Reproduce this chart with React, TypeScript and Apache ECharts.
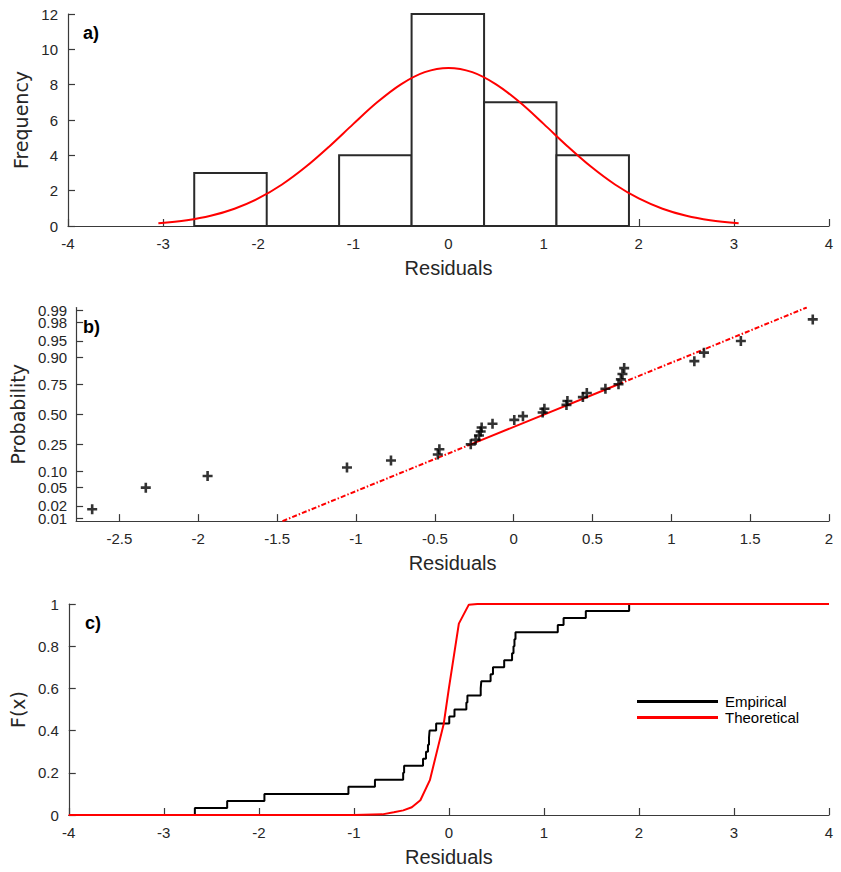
import React, { useEffect, useRef } from "react";
import * as echarts from "echarts";

// ---------- data ----------
const residuals = [
  -2.673, -2.333, -1.941, -1.057, -0.778, -0.481, -0.471, -0.272, -0.241, -0.22,
  -0.209, -0.203, -0.134, 0.004, 0.059, 0.184, 0.195, 0.335, 0.341, 0.439,
  0.464, 0.582, 0.665, 0.68, 0.69, 0.701, 1.146, 1.207, 1.441, 1.897,
];

const binEdges = [-2.673, -1.911, -1.15, -0.388, 0.374, 1.135, 1.897];
const binCounts = [3, 0, 4, 12, 7, 4];

const pdfX = [-3.05, -2.75, -2.5, -2.25, -2, -1.75, -1.5, -1.25, -1, -0.75, -0.5, -0.25, 0,
  0.25, 0.5, 0.75, 1, 1.25, 1.5, 1.75, 2, 2.25, 2.5, 2.75, 3.05];
const pdfY = [0.15, 0.33, 0.58, 0.98, 1.56, 2.35, 3.35, 4.52, 5.78, 7.0, 8.02, 8.71, 8.95,
  8.71, 8.02, 7.0, 5.78, 4.52, 3.35, 2.35, 1.56, 0.98, 0.58, 0.33, 0.15];

// probability tick labels, split into two interleaved sets so none is dropped
const probTicksA = [0.01, 0.05, 0.25, 0.75, 0.95, 0.99];
const probLabelsA = ["0.01", "0.05", "0.25", "0.75", "0.95", "0.99"];
const probTicksB = [0.02, 0.1, 0.5, 0.9, 0.98];
const probLabelsB = ["0.02", "0.10", "0.50", "0.90", "0.98"];
const probLimits = [0.0083, 0.9917];
const refLineX = [-1.466, -0.272, 0.665, 1.859];
const refLineP = [0.0083, 0.25, 0.75, 0.9917];
const normXTicks = [-2.5, -2, -1.5, -1, -0.5, 0, 0.5, 1, 1.5, 2];
const normXLimits = [-2.775, 2.0];

const cdfX = [-4, -1, -0.7, -0.58, -0.48, -0.39, -0.3, -0.2, -0.11, -0.055, 0.0, 0.105, 0.21, 0.3, 4];
const cdfF = [0, 0, 0.003, 0.013, 0.022, 0.037, 0.07, 0.165, 0.33, 0.43, 0.6, 0.907, 0.997, 1, 1];

// ---------- normal probability scale (probability paper transform) ----------
function norminv(p: number): number {
  const a = [-3.969683028665376e1, 2.209460984245205e2, -2.759285104469687e2, 1.38357751867269e2, -3.066479806614716e1, 2.506628277459239];
  const b = [-5.447609879822406e1, 1.615858368580409e2, -1.556989798598866e2, 6.680131188771972e1, -1.328068155288572e1];
  const c = [-7.784894002430293e-3, -3.223964580411365e-1, -2.400758277161838, -2.549732539343734, 4.374664141464968, 2.938163982698783];
  const d = [7.784695709041462e-3, 3.224671290700398e-1, 2.445134137142996, 3.754408661907416];
  const plow = 0.02425;
  const phigh = 1 - plow;
  if (p < plow) {
    const q = Math.sqrt(-2 * Math.log(p));
    return (((((c[0] * q + c[1]) * q + c[2]) * q + c[3]) * q + c[4]) * q + c[5]) /
      ((((d[0] * q + d[1]) * q + d[2]) * q + d[3]) * q + 1);
  }
  if (p <= phigh) {
    const q = p - 0.5;
    const r = q * q;
    return ((((((a[0] * r + a[1]) * r + a[2]) * r + a[3]) * r + a[4]) * r + a[5]) * q) /
      (((((b[0] * r + b[1]) * r + b[2]) * r + b[3]) * r + b[4]) * r + 1);
  }
  const q = Math.sqrt(-2 * Math.log(1 - p));
  return -(((((c[0] * q + c[1]) * q + c[2]) * q + c[3]) * q + c[4]) * q + c[5]) /
    ((((d[0] * q + d[1]) * q + d[2]) * q + d[3]) * q + 1);
}

const FONT = '"Liberation Sans", Arial, sans-serif';
const NAMEFONT = '"DejaVu Sans", Verdana, sans-serif';
const AX = "#3a3a3a";
const TXT = "#262626";

const PLUS = "path://M3.7,0H6.3V3.7H10V6.3H6.3V10H3.7V6.3H0V3.7H3.7Z";

export default function App() {
  const ref = useRef<HTMLDivElement>(null);

  useEffect(() => {
    if (!ref.current) return;
    const chart = echarts.init(ref.current, undefined, { renderer: "svg" });

    const n = residuals.length;
    const histData = binCounts.map((cnt, i) => [binEdges[i], binEdges[i + 1], cnt]);
    const pdfData = pdfX.map((x, i) => [x, pdfY[i]]);
    const normData = residuals.map((x, i) => [x, norminv((i + 0.5) / n)]);
    const refPts = refLineX.map((x, i) => [x, norminv(refLineP[i])]);
    const ecdfData: number[][] = [[residuals[0], 0]];
    residuals.forEach((x, i) => ecdfData.push([x, (i + 1) / n]));
    const cdfData = cdfX.map((x, i) => [x, cdfF[i]]);
    const zTicksA = probTicksA.map((p) => norminv(p));
    const zTicksB = probTicksB.map((p) => norminv(p));
    const zMin = norminv(probLimits[0]);
    const zMax = norminv(probLimits[1]);

    const nearestLabel = (ticks: number[], labels: string[]) => (v: number) => {
      let best = 0;
      ticks.forEach((z, i) => { if (Math.abs(z - v) < Math.abs(ticks[best] - v)) best = i; });
      return labels[best];
    };

    const axisBase = (extra: any = {}) => ({
      type: "value",
      axisLine: { show: true, onZero: false, lineStyle: { color: AX, width: 1.2 } },
      axisTick: { show: true, inside: true, length: 7, lineStyle: { color: AX, width: 1.2 } },
      splitLine: { show: false },
      axisLabel: { color: TXT, fontSize: 15, fontFamily: FONT, margin: 10 },
      ...extra,
    });

    const xName = {
      name: "Residuals",
      nameLocation: "middle",
      nameGap: 32,
      nameTextStyle: { color: TXT, fontSize: 20, fontFamily: FONT },
    };

    const option: any = {
      animation: false,
      textStyle: { fontFamily: FONT },
      grid: [
        { left: 68, right: 12, top: 14, height: 212 },
        { left: 68, right: 12, top: 307.5, height: 213.6 },
        { left: 68, right: 12, top: 604, height: 211 },
      ],
      xAxis: [
        axisBase({ gridIndex: 0, min: -4, max: 4, interval: 1, ...xName }),
        axisBase({
          gridIndex: 1,
          min: normXLimits[0],
          max: normXLimits[1],
          ...xName,
          axisTick: { show: true, inside: true, length: 7, lineStyle: { color: AX, width: 1.2 }, customValues: normXTicks },
          axisLabel: { color: TXT, fontSize: 15, fontFamily: FONT, margin: 10, customValues: normXTicks },
        }),
        axisBase({ gridIndex: 2, min: -4, max: 4, interval: 1, ...xName }),
      ],
      yAxis: [
        axisBase({
          gridIndex: 0, min: 0, max: 12, interval: 2,
          name: "Frequency", nameLocation: "middle", nameGap: 32,
          nameTextStyle: { color: TXT, fontSize: 19, fontFamily: NAMEFONT },
        }),
        axisBase({
          gridIndex: 1,
          position: "left",
          offset: 0,
          min: zMin,
          max: zMax,
          name: "Probability", nameLocation: "middle", nameGap: 47,
          nameTextStyle: { color: TXT, fontSize: 19, fontFamily: NAMEFONT },
          axisTick: { show: true, inside: true, length: 7, lineStyle: { color: AX, width: 1.2 }, customValues: zTicksA },
          axisLabel: {
            color: TXT, fontSize: 15, fontFamily: FONT, margin: 9,
            customValues: zTicksA,
            formatter: nearestLabel(zTicksA, probLabelsA),
          },
        }),
        axisBase({
          gridIndex: 2, min: 0, max: 1, interval: 0.2,
          name: "F(x)", nameLocation: "middle", nameGap: 40,
          nameTextStyle: { color: TXT, fontSize: 19, fontFamily: NAMEFONT },
        }),
        axisBase({
          gridIndex: 1,
          position: "left",
          offset: 0,
          min: zMin,
          max: zMax,
          axisLine: { show: false, onZero: false },
          axisTick: { show: true, inside: true, length: 7, lineStyle: { color: AX, width: 1.2 }, customValues: zTicksB },
          axisLabel: {
            color: TXT, fontSize: 15, fontFamily: FONT, margin: 9,
            customValues: zTicksB,
            formatter: nearestLabel(zTicksB, probLabelsB),
          },
        }),
      ],
      legend: {
        data: [
          { name: "Empirical", icon: "rect" },
          { name: "Theoretical", icon: "rect" },
        ],
        orient: "vertical",
        left: 632,
        top: 689,
        itemWidth: 81,
        itemHeight: 3,
        itemGap: 1,
        textStyle: { color: "#000", fontSize: 15, fontFamily: FONT, padding: [0, 0, 0, 2] },
      },
      graphic: [
        { type: "text", left: 83, top: 24, style: { text: "a)", fontSize: 18, fontWeight: "bold", fontFamily: FONT, fill: "#000" } },
        { type: "text", left: 83, top: 318, style: { text: "b)", fontSize: 18, fontWeight: "bold", fontFamily: FONT, fill: "#000" } },
        { type: "text", left: 85, top: 614, style: { text: "c)", fontSize: 18, fontWeight: "bold", fontFamily: FONT, fill: "#000" } },
      ],
      series: [
        {
          type: "custom",
          xAxisIndex: 0,
          yAxisIndex: 0,
          data: histData,
          encode: { x: [0, 1], y: 2 },
          renderItem: (params: any, api: any) => {
            const lo = api.value(0);
            const hi = api.value(1);
            const cnt = api.value(2);
            const p0 = api.coord([lo, cnt]);
            const p1 = api.coord([hi, 0]);
            return {
              type: "rect",
              shape: { x: p0[0], y: p0[1], width: p1[0] - p0[0], height: p1[1] - p0[1] },
              style: { fill: "#ffffff", stroke: "#2a2a2a", lineWidth: 2 },
            };
          },
        },
        {
          type: "line",
          xAxisIndex: 0,
          yAxisIndex: 0,
          data: pdfData,
          smooth: 0.35,
          showSymbol: false,
          symbol: "none",
          lineStyle: { color: "#ff0000", width: 2 },
        },
        {
          type: "line",
          xAxisIndex: 1,
          yAxisIndex: 1,
          data: [refPts[0], refPts[1]],
          symbol: "none",
          lineStyle: { color: "#ff0000", width: 2, type: [5, 2, 1.5, 2] },
        },
        {
          type: "line",
          xAxisIndex: 1,
          yAxisIndex: 1,
          data: [refPts[1], refPts[2]],
          symbol: "none",
          lineStyle: { color: "#ff0000", width: 2 },
        },
        {
          type: "line",
          xAxisIndex: 1,
          yAxisIndex: 1,
          data: [refPts[2], refPts[3]],
          symbol: "none",
          lineStyle: { color: "#ff0000", width: 2, type: [5, 2, 1.5, 2] },
        },
        {
          type: "scatter",
          xAxisIndex: 1,
          yAxisIndex: 1,
          data: normData,
          symbol: PLUS,
          symbolSize: 10,
          itemStyle: { color: "#000000" },
          z: 5,
        },
        {
          name: "Empirical",
          type: "line",
          xAxisIndex: 2,
          yAxisIndex: 2,
          data: ecdfData,
          step: "end",
          symbol: "none",
          itemStyle: { color: "#000000" },
          lineStyle: { color: "#000000", width: 2 },
        },
        {
          name: "Theoretical",
          type: "line",
          xAxisIndex: 2,
          yAxisIndex: 2,
          data: cdfData,
          symbol: "none",
          itemStyle: { color: "#ff0000" },
          lineStyle: { color: "#ff0000", width: 2 },
        },
      ],
    };

    chart.setOption(option);
    return () => chart.dispose();
  }, []);

  return (
    <div
      ref={ref}
      style={{ position: "fixed", left: 0, top: 0, width: 841, height: 872, background: "#ffffff" }}
    />
  );
}
